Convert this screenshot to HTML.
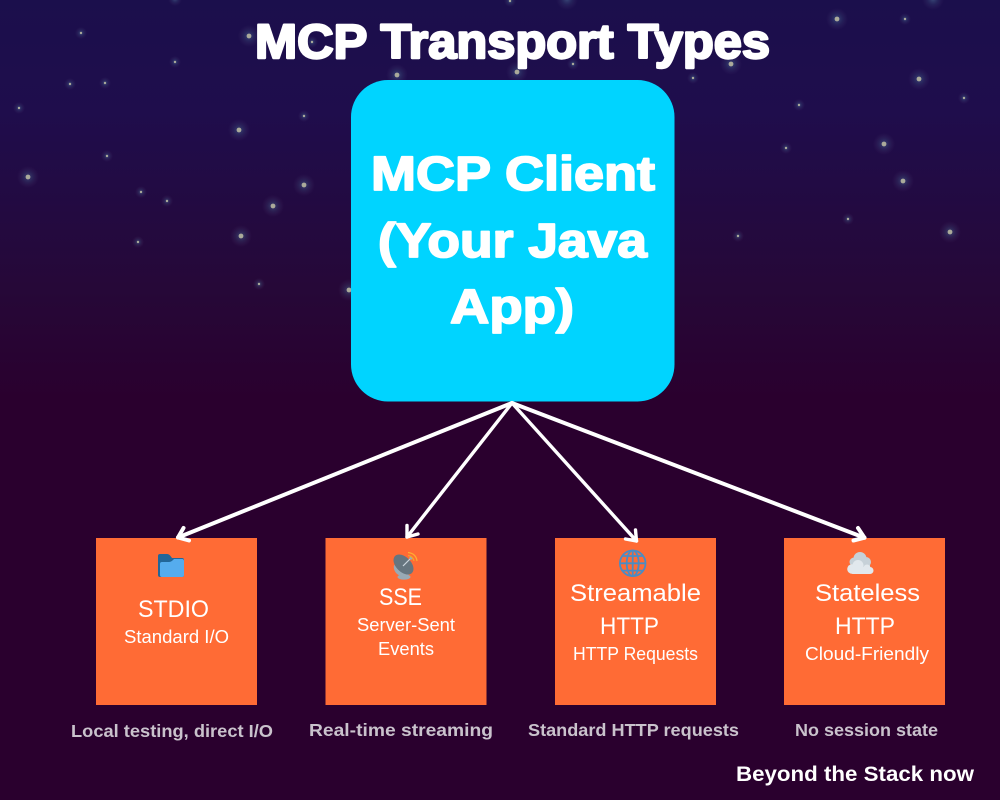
<!DOCTYPE html>
<html>
<head>
<meta charset="utf-8">
<style>
html,body{margin:0;padding:0;background:#2a002e;}
svg{display:block;}
text{font-family:"Liberation Sans",sans-serif;}
</style>
</head>
<body>
<svg xmlns="http://www.w3.org/2000/svg" width="1000" height="800" viewBox="0 0 1000 800">
<defs>
<linearGradient id="bg" x1="0" y1="0" x2="0" y2="1">
<stop offset="0" stop-color="#1b0f4c"/>
<stop offset="0.14" stop-color="#1f0d4c"/>
<stop offset="0.36" stop-color="#260838"/>
<stop offset="0.5" stop-color="#2a002e"/>
<stop offset="1" stop-color="#2a002e"/>
</linearGradient>
<radialGradient id="glow">
<stop offset="0" stop-color="#5f8fb0" stop-opacity=".45"/>
<stop offset="0.5" stop-color="#4a6a90" stop-opacity=".2"/>
<stop offset="1" stop-color="#6a4a80" stop-opacity="0"/>
</radialGradient>
</defs>
<rect width="1000" height="800" fill="url(#bg)"/>

<g id="stars-large">
<g fill="url(#glow)">
<circle cx="249" cy="36" r="11"/><circle cx="239" cy="130" r="11"/><circle cx="28" cy="177" r="11"/>
<circle cx="304" cy="185" r="11"/><circle cx="273" cy="206" r="11"/><circle cx="241" cy="236" r="11"/>
<circle cx="349" cy="290" r="11"/><circle cx="837" cy="19" r="11"/><circle cx="731" cy="64" r="11"/>
<circle cx="919" cy="79" r="11"/><circle cx="884" cy="144" r="11"/><circle cx="903" cy="181" r="11"/>
<circle cx="950" cy="232" r="11"/><circle cx="933" cy="-1" r="11"/><circle cx="397" cy="75" r="11"/>
<circle cx="517" cy="72" r="11"/><circle cx="567" cy="-1" r="11"/><circle cx="175" cy="-1" r="7"/>
<circle cx="81" cy="33" r="6"/><circle cx="312" cy="42" r="6"/><circle cx="175" cy="62" r="6"/>
<circle cx="70" cy="84" r="6"/><circle cx="105" cy="83" r="6"/><circle cx="19" cy="108" r="6"/>
<circle cx="304" cy="116" r="6"/><circle cx="107" cy="156" r="6"/><circle cx="141" cy="192" r="6"/>
<circle cx="167" cy="201" r="6"/><circle cx="138" cy="242" r="6"/><circle cx="259" cy="284" r="6"/>
<circle cx="905" cy="19" r="6"/><circle cx="693" cy="78" r="6"/><circle cx="964" cy="98" r="6"/>
<circle cx="799" cy="105" r="6"/><circle cx="786" cy="148" r="6"/><circle cx="848" cy="219" r="6"/>
<circle cx="738" cy="236" r="6"/><circle cx="510" cy="1" r="6"/><circle cx="573" cy="64" r="6"/>
</g>
<g fill="#aaaa9a">
<circle cx="249" cy="36" r="2.4"/><circle cx="239" cy="130" r="2.4"/><circle cx="28" cy="177" r="2.4"/>
<circle cx="304" cy="185" r="2.4"/><circle cx="273" cy="206" r="2.4"/><circle cx="241" cy="236" r="2.4"/>
<circle cx="349" cy="290" r="2.4"/><circle cx="837" cy="19" r="2.4"/><circle cx="731" cy="64" r="2.4"/>
<circle cx="919" cy="79" r="2.4"/><circle cx="884" cy="144" r="2.4"/><circle cx="903" cy="181" r="2.4"/>
<circle cx="950" cy="232" r="2.4"/><circle cx="397" cy="75" r="2.4"/><circle cx="517" cy="72" r="2.4"/>
<circle cx="81" cy="33" r="1.2"/><circle cx="312" cy="42" r="1.2"/><circle cx="175" cy="62" r="1.2"/>
<circle cx="70" cy="84" r="1.2"/><circle cx="105" cy="83" r="1.2"/><circle cx="19" cy="108" r="1.2"/>
<circle cx="304" cy="116" r="1.2"/><circle cx="107" cy="156" r="1.2"/><circle cx="141" cy="192" r="1.2"/>
<circle cx="167" cy="201" r="1.2"/><circle cx="138" cy="242" r="1.2"/><circle cx="259" cy="284" r="1.2"/>
<circle cx="905" cy="19" r="1.2"/><circle cx="693" cy="78" r="1.2"/><circle cx="964" cy="98" r="1.2"/>
<circle cx="799" cy="105" r="1.2"/><circle cx="786" cy="148" r="1.2"/><circle cx="848" cy="219" r="1.2"/>
<circle cx="738" cy="236" r="1.2"/><circle cx="510" cy="1" r="1.2"/><circle cx="573" cy="64" r="1.2"/>
</g>
</g>

<text x="255" y="58" font-size="48" font-weight="700" fill="#fff" stroke="#fff" stroke-width="2.4" stroke-linejoin="round" textLength="515" lengthAdjust="spacingAndGlyphs">MCP Transport Types</text>

<rect x="351" y="80" width="323.5" height="321.5" rx="37" ry="37" fill="#00d4ff"/>
<g font-size="48" font-weight="700" fill="#fff" stroke="#fff" stroke-width="1.8" stroke-linejoin="round">
<text x="371" y="190" textLength="284" lengthAdjust="spacingAndGlyphs">MCP Client</text>
<text x="378" y="257" textLength="269" lengthAdjust="spacingAndGlyphs">(Your Java</text>
<text x="450" y="323" textLength="124" lengthAdjust="spacingAndGlyphs">App)</text>
</g>

<g fill="#ff6b35">
<rect x="96" y="538" width="161" height="167"/>
<rect x="325.5" y="538" width="161" height="167"/>
<rect x="555" y="538" width="161" height="167"/>
<rect x="784" y="538" width="161" height="167"/>
</g>

<g fill="none" stroke="#fff" stroke-linecap="round" stroke-linejoin="round">
<g stroke-width="4">
<path d="M512 403 L178 537.5"/>
<path d="M183.5 528 L178 537.5 L189 540.5"/>
</g>
<g stroke-width="3.4">
<path d="M512 403 L407 537"/>
<path d="M407 525.5 L407 537 L418 534"/>
</g>
<g stroke-width="3.4">
<path d="M512 403 L636.5 541"/>
<path d="M635.5 530 L636.5 541 L625.5 539"/>
</g>
<g stroke-width="4">
<path d="M512 403 L864.5 537.7"/>
<path d="M858 528 L864.5 537.7 L853.5 540.5"/>
</g>
</g>

<!-- folder icon -->
<path d="M160 554 H167 Q169 554 170.500 556 L172 558 H182 Q184 558 184 560 V575 Q184 577 182 577 H160 Q158 577 158 575 V556 Q158 554 160 554 Z" fill="#226699"/>
<path d="M162 562 H169 Q171 562 173 560 L174 559 H182 Q184 559 184 561 V575 Q184 577 182 577 H162 Q160 577 160 575 V564 Q160 562 162 562 Z" fill="#55acee"/>

<!-- satellite icon -->
<g>
<ellipse cx="404" cy="577" rx="6.500" ry="2.600" fill="#99aab5"/>
<path d="M394 565 L410 574 Q402 579 396 573 Q393 569 394 565Z" fill="#99aab5"/>
<ellipse cx="403.500" cy="564.500" rx="7.500" ry="12" transform="rotate(-45 403.500 564.500)" fill="#66757f"/>
<path d="M403 566 L411 558" stroke="#ccd6dd" stroke-width="1.2" fill="none"/>
<circle cx="411" cy="558" r="1.600" fill="#99aab5"/>
<path d="M408 555.500 Q413 556 414 561" stroke="#f5a623" stroke-width="1.300" fill="none"/>
<path d="M408 552.500 Q416 553.500 417 561" stroke="#ffac33" stroke-width="1.300" fill="none"/>
</g>

<!-- globe icon -->
<g fill="none" stroke="#4a8cc4" stroke-width="1.800">
<circle cx="632.700" cy="563.300" r="12.800"/>
<ellipse cx="632.700" cy="563.300" rx="6" ry="12.800"/>
<path d="M632.700 550.500 V576.100"/>
<path d="M619.900 563.300 H645.500"/>
<path d="M622.500 556 H642.900"/>
<path d="M622.500 570.600 H642.900"/>
</g>

<!-- cloud icon -->
<g>
<g fill="#c6d1d8">
<circle cx="860" cy="558.500" r="6.500"/><circle cx="866" cy="562" r="5"/><circle cx="854" cy="562" r="4.500"/>
<rect x="852" y="560" width="18" height="8"/>
</g>
<g fill="#e1e8ed">
<circle cx="858" cy="565.500" r="5.500"/><circle cx="852" cy="569" r="4.800"/><circle cx="867" cy="568" r="3.500"/><circle cx="870" cy="570.500" r="3.500"/>
<rect x="851" y="567" width="20" height="7" rx="2"/>
</g>
</g>

<g fill="#fff">
<text x="138" y="617" font-size="24.500" textLength="71" lengthAdjust="spacingAndGlyphs">STDIO</text>
<text x="124" y="643" font-size="18" textLength="105" lengthAdjust="spacingAndGlyphs">Standard I/O</text>

<text x="379" y="605" font-size="24.500" textLength="43" lengthAdjust="spacingAndGlyphs">SSE</text>
<text x="357" y="631" font-size="18" textLength="98" lengthAdjust="spacingAndGlyphs">Server-Sent</text>
<text x="378" y="655" font-size="18" textLength="56" lengthAdjust="spacingAndGlyphs">Events</text>

<text x="570" y="601" font-size="24.500" textLength="131" lengthAdjust="spacingAndGlyphs">Streamable</text>
<text x="600" y="634" font-size="24.500" textLength="59" lengthAdjust="spacingAndGlyphs">HTTP</text>
<text x="573" y="660" font-size="18" textLength="125" lengthAdjust="spacingAndGlyphs">HTTP Requests</text>

<text x="815" y="601" font-size="24.500" textLength="105" lengthAdjust="spacingAndGlyphs">Stateless</text>
<text x="835" y="634" font-size="24.500" textLength="60" lengthAdjust="spacingAndGlyphs">HTTP</text>
<text x="805" y="660" font-size="18" textLength="124" lengthAdjust="spacingAndGlyphs">Cloud-Friendly</text>
</g>

<g fill="#c9c2cc" font-size="17.500" font-weight="700">
<text x="71" y="737" textLength="202" lengthAdjust="spacingAndGlyphs">Local testing, direct I/O</text>
<text x="309" y="736" textLength="184" lengthAdjust="spacingAndGlyphs">Real-time streaming</text>
<text x="528" y="736" textLength="211" lengthAdjust="spacingAndGlyphs">Standard HTTP requests</text>
<text x="795" y="736" textLength="143" lengthAdjust="spacingAndGlyphs">No session state</text>
</g>

<text x="736" y="781" font-size="21.500" font-weight="700" fill="#fff" textLength="238" lengthAdjust="spacingAndGlyphs">Beyond the Stack now</text>
</svg>
</body>
</html>
